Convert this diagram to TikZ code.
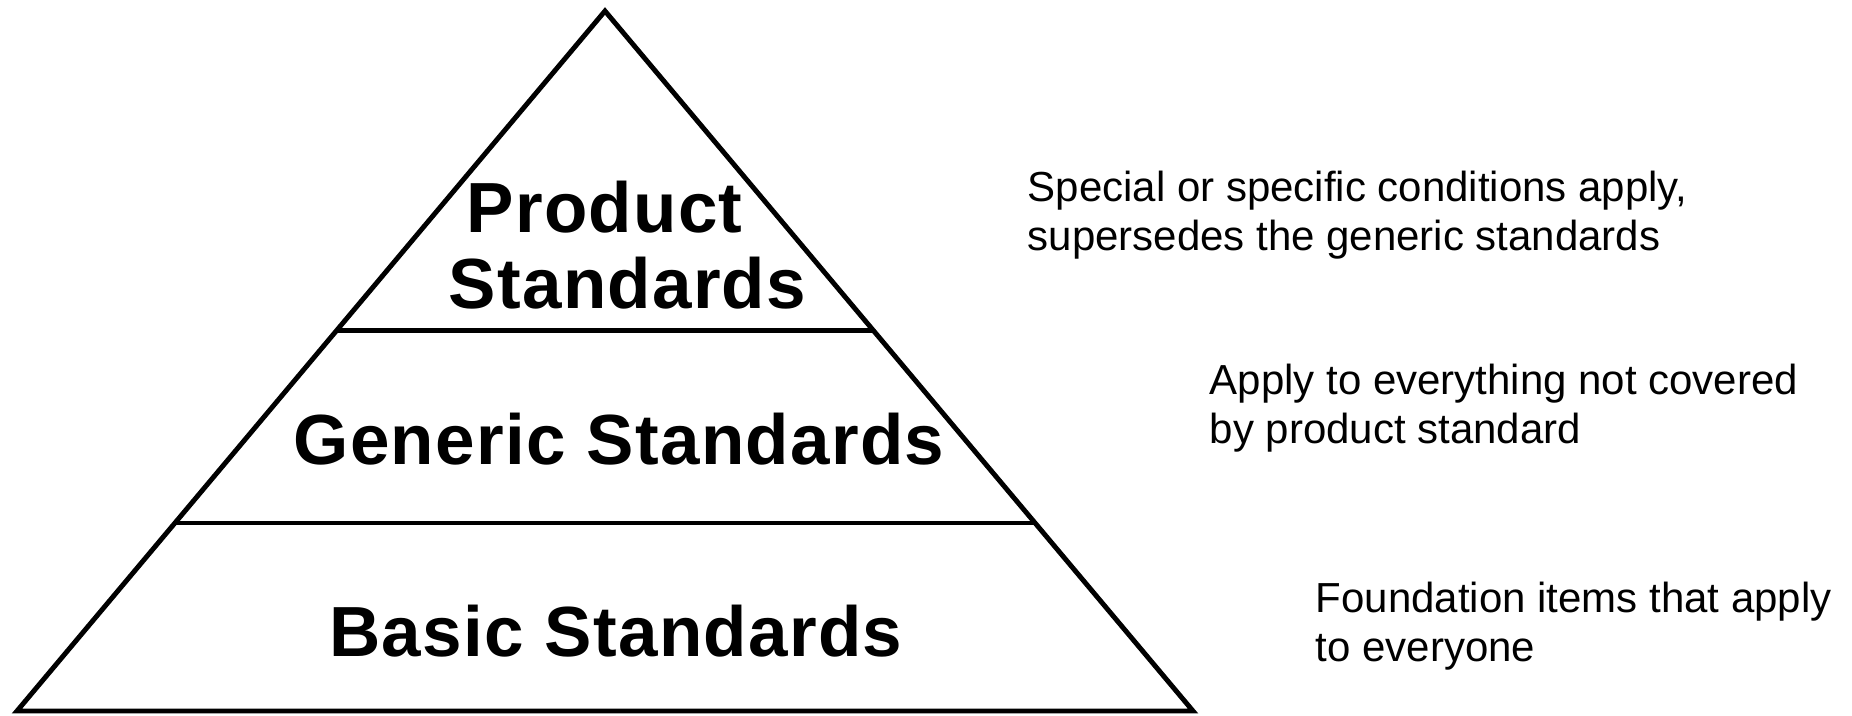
\documentclass[tikz,border=0pt]{standalone}
\usepackage{fontspec}
\setmainfont{Liberation Sans}
\newfontfamily\tierfont[LetterSpace=1.8]{Liberation Sans}
\usetikzlibrary{calc}

\tikzset{
	layer/.style={line width=1.4pt},
	tier/.style={font=\fontsize{20.2}{21.6}\selectfont\tierfont\bfseries, align=center, anchor=base, inner sep=0pt},
	note/.style={font=\fontsize{11.95}{13.7}\selectfont, align=left, anchor=base west, inner sep=0pt}
}

\begin{document}
\begin{tikzpicture}
		%%%%% START %%%%%
		\useasboundingbox (0, 0) rectangle (18.52, 7.15);
		
		\coordinate (apex) at (6.05, 7.04);
		\coordinate (baseL) at (0.17, 0.04);
		\coordinate (baseR) at (11.93, 0.04);
		
		% outline of the pyramid
		\draw[layer] (baseL) -- (apex) -- (baseR) -- cycle;
		
		% the two dividers
		\coordinate (upL) at ($(baseL)!0.543!(apex)$);
		\coordinate (upR) at ($(baseR)!0.543!(apex)$);
		\coordinate (lowL) at ($(baseL)!0.2686!(apex)$);
		\coordinate (lowR) at ($(baseR)!0.2686!(apex)$);
		\draw[layer] (upL) -- (upR);
		\draw[layer] (lowL) -- (lowR);
		
		% anchored on the baseline of the last line
		\node[tier, align=left, anchor=base west] (product) at (4.48, 4.07) {\hspace*{0.18cm}Product\\Standards};
		\node[tier] (generic) at (6.19, 2.51) {Generic Standards};
		\node[tier] (basic) at (6.16, 0.59) {Basic Standards};
		
		\node[note] (productnote) at (10.27, 4.65) {Special or specific conditions apply,\\supersedes the generic standards};
		\node[note] (genericnote) at (12.09, 2.72) {Apply to everything not covered\\by product standard};
		\node[note] (basicnote) at (13.15, 0.54) {Foundation items that apply\\to everyone};
		
		%%%%% END %%%%%
	\end{tikzpicture}
\end{document}
